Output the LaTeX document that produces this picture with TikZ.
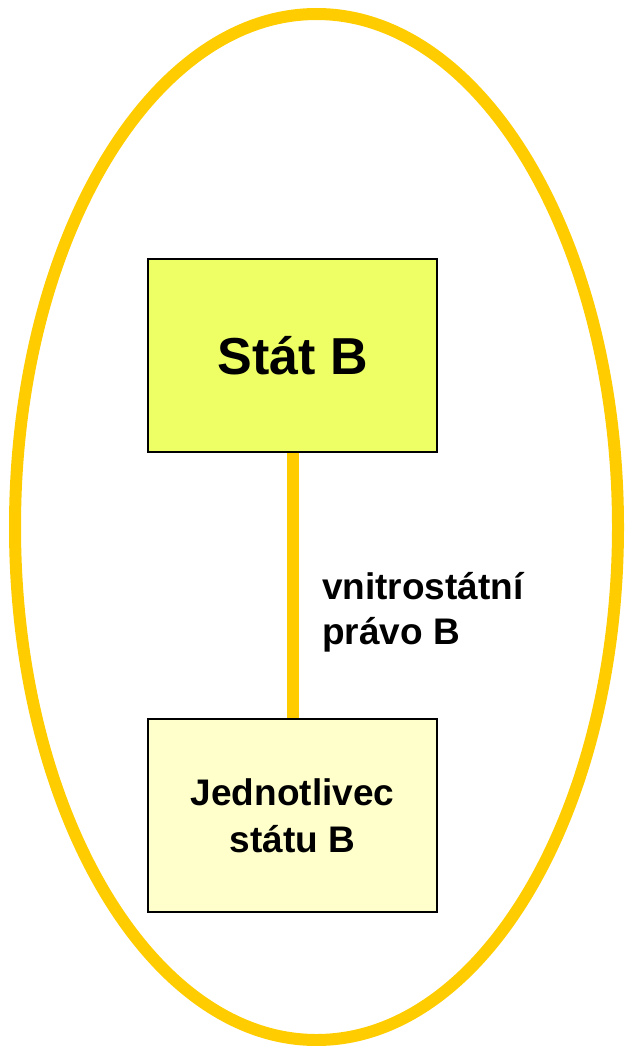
\documentclass[tikz,border=0pt]{standalone}
\usepackage{fontspec}
\setmainfont{Liberation Sans}
\usetikzlibrary{positioning}

\definecolor{ovalyellow}{HTML}{FFCC00}
\definecolor{statfill}{HTML}{EEFF66}
\definecolor{jednfill}{HTML}{FFFFCC}

\begin{document}
\begin{tikzpicture}[x=1pt, y=-1pt,
  box/.style={draw=black, line width=1.5pt, minimum width=289pt, minimum height=193pt, inner sep=0pt, align=center, font=\bfseries},
  con/.style={draw=ovalyellow, line width=12pt}]

\useasboundingbox (0,0) rectangle (624,1046);

% outer oval
\draw[ovalyellow, line width=12pt] (316.5,527) ellipse [x radius=301.5, y radius=513];

% upper box: state
\node[box, fill=statfill, font=\bfseries\fontsize{52}{60}\selectfont] (stat) at (292.5,355.5) {Stát B};

% lower box: individual
\node[box, fill=jednfill, font=\bfseries\fontsize{37}{47}\selectfont] (jedn) at (292.5,815.5) {Jednotlivec\\státu B};

% link between them
\draw[con] (stat.south) -- (jedn.north);

% label of the link
\node[anchor=west, align=left, inner sep=0pt, font=\bfseries\fontsize{37}{45}\selectfont] (pravo) at (322,612) {vnitrostátní\\právo B};

\end{tikzpicture}
\end{document}
